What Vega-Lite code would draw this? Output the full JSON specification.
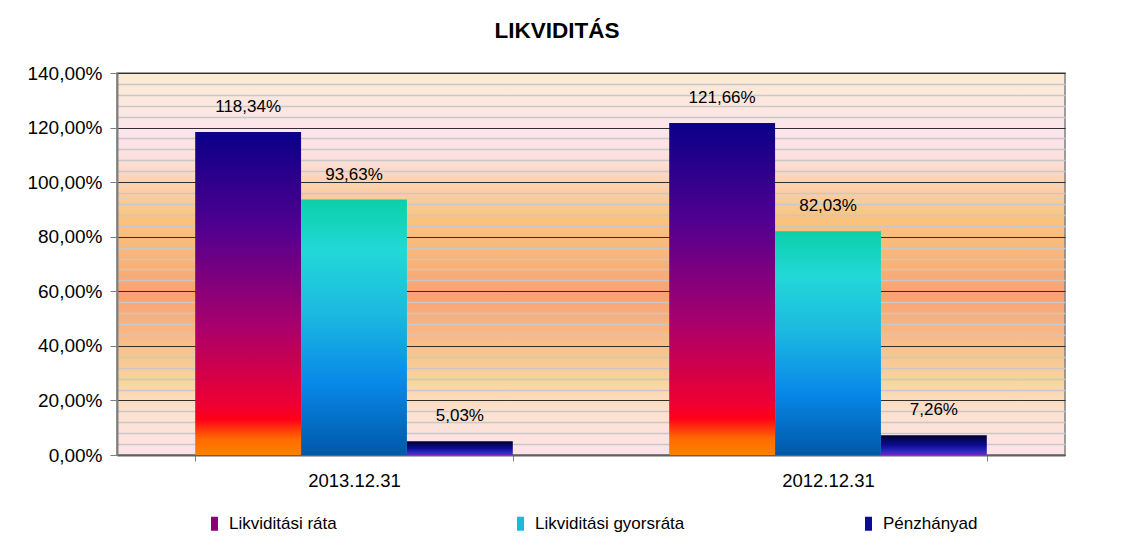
{
  "$schema": "https://vega.github.io/schema/vega-lite/v6.json",
  "autosize": "none",
  "width": 948,
  "height": 382,
  "padding": {"left": 117, "top": 73, "right": 60, "bottom": 99},
  "background": "white",
  "title": {"text": "LIKVIDITÁS", "fontSize": 22.5, "font": "Liberation Sans", "fontWeight": "bold", "color": "black", "anchor": "middle", "offset": 22, "dx": -34},
  "data": {"values": [
    {"date": "2013.12.31", "series": "Likviditási ráta", "value": 1.1834},
    {"date": "2013.12.31", "series": "Likviditási gyorsráta", "value": 0.9363},
    {"date": "2013.12.31", "series": "Pénzhányad", "value": 0.0503},
    {"date": "2012.12.31", "series": "Likviditási ráta", "value": 1.2166},
    {"date": "2012.12.31", "series": "Likviditási gyorsráta", "value": 0.8203},
    {"date": "2012.12.31", "series": "Pénzhányad", "value": 0.0726}
  ]},
  "encoding": {
    "x": {"field": "date", "type": "nominal", "sort": ["2013.12.31", "2012.12.31"],
      "scale": {"paddingInner": 0.33, "paddingOuter": 0.165},
      "axis": {"title": null, "labelAngle": 0, "labelFontSize": 18.5, "labelFont": "Liberation Sans", "labelColor": "black", "labelPadding": 10, "tickBand": "extent", "tickSize": 6, "tickColor": "#808080", "domainColor": "#606060", "domainWidth": 2}},
    "xOffset": {"field": "series", "type": "nominal", "sort": ["Likviditási ráta", "Likviditási gyorsráta", "Pénzhányad"], "scale": {"paddingInner": 0, "paddingOuter": 0}},
    "y": {"field": "value", "type": "quantitative", "scale": {"domain": [0, 1.4], "nice": false},
      "axis": {"title": null, "format": ".2%", "values": [0,0.04,0.08,0.12,0.16,0.2,0.24,0.28,0.32,0.36,0.4,0.44,0.48,0.52,0.56,0.6,0.64,0.68,0.72,0.76,0.8,0.84,0.88,0.92,0.96,1,1.04,1.08,1.12,1.16,1.2,1.24,1.28,1.32,1.36,1.4],
        "labelExpr": "round(datum.value*100) % 20 == 0 ? datum.label : ''",
        "labelFontSize": 19, "labelFont": "Liberation Sans", "labelColor": "black", "labelPadding": 8,
        "grid": true,
        "gridColor": {"condition": {"test": "round(datum.value*100) % 20 == 0", "value": "#303030"}, "value": "#c8c8c8"},
        "gridWidth": {"condition": {"test": "round(datum.value*100) % 20 == 0", "value": 1.2}, "value": 1.5},
        "tickOpacity": {"condition": {"test": "round(datum.value*100) % 20 == 0", "value": 1}, "value": 0},
        "tickSize": 7, "tickColor": "#808080", "domainColor": "#808080", "domainWidth": 2}}
  },
  "layer": [
    {
      "mark": {"type": "bar", "width": {"band": 1}},
      "encoding": {
        "fill": {"condition": [
          {"test": "datum.series === 'Likviditási ráta'", "value": {"gradient": "linear", "x1": 0, "y1": 0, "x2": 0, "y2": 1, "stops": [{"offset": 0, "color": "#0a0088"}, {"offset": 0.3, "color": "#520090"}, {"offset": 0.6, "color": "#a8006c"}, {"offset": 0.85, "color": "#f00030"}, {"offset": 0.89, "color": "#ff0018"}, {"offset": 0.95, "color": "#ff6a00"}, {"offset": 1, "color": "#ff8000"}]}},
          {"test": "datum.series === 'Likviditási gyorsráta'", "value": {"gradient": "linear", "x1": 0, "y1": 0, "x2": 0, "y2": 1, "stops": [{"offset": 0, "color": "#0ccfa8"}, {"offset": 0.2, "color": "#22d8d8"}, {"offset": 0.45, "color": "#1cb8e0"}, {"offset": 0.72, "color": "#0888e8"}, {"offset": 1, "color": "#0058a8"}]}}
        ], "value": {"gradient": "linear", "x1": 0, "y1": 0, "x2": 0, "y2": 1, "stops": [{"offset": 0, "color": "#000030"}, {"offset": 0.5, "color": "#0c0c90"}, {"offset": 0.8, "color": "#2828c8"}, {"offset": 1, "color": "#7a20c0"}]}}
      }
    },
    {
      "mark": {"type": "bar", "width": {"band": 1}, "opacity": 0},
      "encoding": {
        "color": {"field": "series", "type": "nominal", "sort": ["Likviditási ráta", "Likviditási gyorsráta", "Pénzhányad"],
          "scale": {"domain": ["Likviditási ráta", "Likviditási gyorsráta", "Pénzhányad"], "range": ["#8a0078", "#1cb8e0", "#0c0c90"]},
          "legend": {"title": null, "orient": "none", "legendX": 89, "legendY": 442, "direction": "horizontal", "columns": 3, "gridAlign": "each", "columnPadding": 175,
            "symbolType": "M-0.5,-1L0.5,-1L0.5,1L-0.5,1Z", "symbolSize": 196, "symbolStrokeWidth": 0, "symbolOpacity": 1,
            "labelFontSize": 17, "labelFont": "Liberation Sans", "labelColor": "black", "labelOffset": 6,
            "encode": {"symbols": {"update": {"opacity": {"value": 1}, "fill": {"signal": "datum.value === 'Likviditási ráta' ? {gradient: 'linear', x1: 0, y1: 0, x2: 0, y2: 1, stops: [{offset: 0, color: '#1a0090'}, {offset: 0.6, color: '#a0006c'}, {offset: 0.8, color: '#ff0020'}, {offset: 1, color: '#ff8000'}]} : datum.value === 'Likviditási gyorsráta' ? {gradient: 'linear', x1: 0, y1: 0, x2: 0, y2: 1, stops: [{offset: 0, color: '#10d8c0'}, {offset: 0.5, color: '#18a8e0'}, {offset: 1, color: '#0060b8'}]} : {gradient: 'linear', x1: 0, y1: 0, x2: 0, y2: 1, stops: [{offset: 0, color: '#000040'}, {offset: 0.6, color: '#2020c0'}, {offset: 1, color: '#8030b0'}]}"}}}}}
        }
      }
    },
    {
      "mark": {"type": "text", "baseline": "middle", "dy": -25, "fontSize": 17, "font": "Liberation Sans", "color": "black"},
      "encoding": {"text": {"field": "value", "type": "quantitative", "format": ".2%"}}
    }
  ],
  "config": {
    "locale": {"number": {"decimal": ",", "thousands": " ", "grouping": [3], "currency": ["", " Ft"]}},
    "view": {"stroke": "#808080", "strokeWidth": 1.5,
      "fill": {"gradient": "linear", "x1": 0, "y1": 0, "x2": 0, "y2": 1, "stops": [{"offset": 0, "color": "#fbebd0"}, {"offset": 0.15, "color": "#fde5ee"}, {"offset": 0.22, "color": "#fde0e0"}, {"offset": 0.3, "color": "#fbd0aa"}, {"offset": 0.38, "color": "#f9c47e"}, {"offset": 0.5, "color": "#f8b27a"}, {"offset": 0.58, "color": "#f7a274"}, {"offset": 0.7, "color": "#f9bc88"}, {"offset": 0.8, "color": "#fad29e"}, {"offset": 0.88, "color": "#fde0cc"}, {"offset": 1, "color": "#fde4ea"}]}}
  }
}
